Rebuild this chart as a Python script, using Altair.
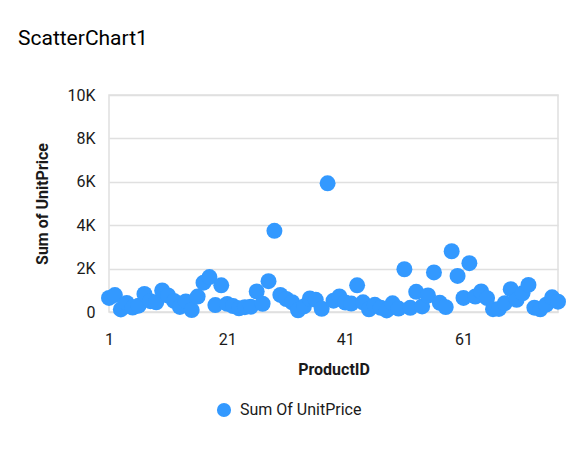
import altair as alt
import pandas as pd

product_ids = list(range(1, 78))
unit_price_sums = [
    650, 780, 120, 420, 205, 290, 830, 500, 450, 990,
    760, 510, 232, 490, 90, 710, 1350, 1610, 320, 1230,
    375, 275, 170, 220, 245, 945, 380, 1420, 3740, 785,
    600, 450, 77, 256, 623, 560, 150, 5930, 520, 720,
    437, 390, 1230, 445, 126, 333, 195, 73, 400, 160,
    1970, 194, 930, 255, 760, 1825, 425, 225, 2800, 1660,
    650, 2250, 715, 945, 640, 128, 140, 408, 1050, 560,
    860, 1250, 200, 125, 340, 675, 475,
]
x_ticks = [1, 21, 41, 61]
y_ticks = [0, 2000, 4000, 6000, 8000, 10000]
series_name = "Sum Of UnitPrice"

df = pd.DataFrame({
    "ProductID": product_ids,
    "UnitPrice": unit_price_sums,
    "Series": [series_name] * len(product_ids),
})

FONT = "Roboto"
BLUE = "#3399ff"

chart = alt.Chart(df).mark_circle(size=255, opacity=1, color=BLUE).encode(
    x=alt.X(
        "ProductID:Q",
        scale=alt.Scale(domain=[1, 77], nice=False, zero=False),
        axis=alt.Axis(
            values=x_ticks, title="ProductID", grid=False, ticks=False,
            domain=False, labelPadding=19, labelFontSize=16,
            labelColor="#1a1a1a", labelFont=FONT, titleFont=FONT,
            titleFontSize=16, titleFontWeight="bold", titleColor="#1a1a1a",
            titlePadding=14, labelFlush=False,
        ),
    ),
    y=alt.Y(
        "UnitPrice:Q",
        scale=alt.Scale(domain=[0, 10000], nice=False),
        axis=alt.Axis(
            values=y_ticks, title="Sum of UnitPrice", ticks=False, domain=False,
            gridColor="#e0e0e0", gridWidth=1.5, labelPadding=14,
            labelFontSize=16, labelColor="#1a1a1a", labelFont=FONT,
            labelExpr="datum.value == 0 ? '0' : (datum.value / 1000) + 'K'",
            titleFont=FONT, titleFontSize=16, titleFontWeight="bold",
            titleColor="#1a1a1a", titlePadding=16,
        ),
    ),
    color=alt.Color(
        "Series:N",
        scale=alt.Scale(range=[BLUE]),
        legend=alt.Legend(
            title=None, orient="none", legendX=107, legendY=307,
            symbolType="circle", symbolSize=200, symbolStrokeWidth=0,
            labelFont=FONT, labelFontSize=16, labelColor="#1a1a1a",
            labelOffset=8,
        ),
    ),
).properties(
    width=449,
    height=217,
    title=alt.TitleParams(
        "ScatterChart1", anchor="start", frame="group", font=FONT, fontSize=21,
        fontWeight="normal", color="#000000", dx=-91, offset=38,
    ),
).configure_view(
    stroke="#e0e0e0", strokeWidth=1.5,
).properties(
    autosize=alt.AutoSizeParams(type="none"),
    padding={"left": 101, "top": 87, "right": 20, "bottom": 138},
    background="white",
)

chart.save("out.html", embed_options={"renderer": "svg", "actions": False})
